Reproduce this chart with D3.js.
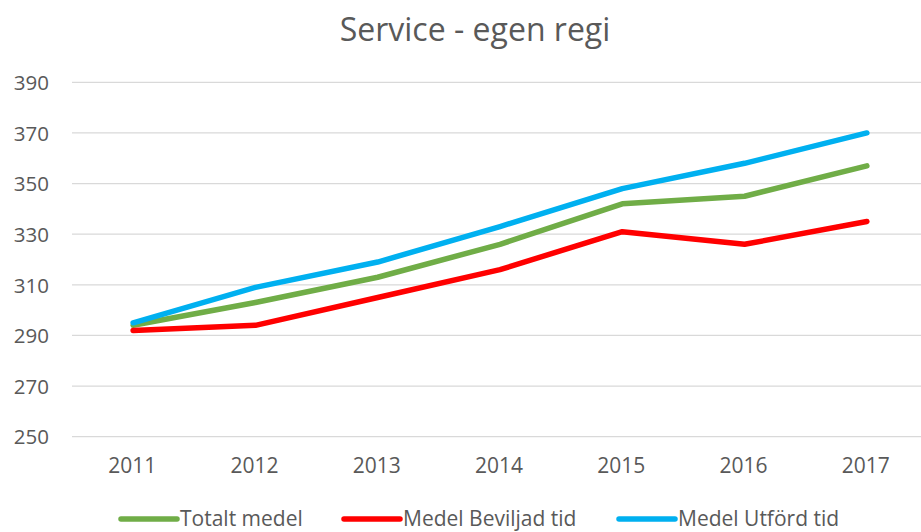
<!DOCTYPE html>
<html>
<head>
<meta charset="utf-8">
<script src="https://cdn.jsdelivr.net/npm/d3@7/dist/d3.min.js"></script>
<style>
  html, body { margin: 0; padding: 0; background: #fff; }
  text { font-family: "Open Sans", "Noto Sans", sans-serif; fill: #595959; }
</style>
</head>
<body>
<svg id="chart" width="921" height="532"></svg>
<script>
const years = ["2011", "2012", "2013", "2014", "2015", "2016", "2017"];
const totaltMedel = [294, 303, 313, 326, 342, 345, 357];
const medelBeviljad = [292, 294, 305, 316, 331, 326, 335];
const medelUtford = [295, 309, 319, 333, 348, 358, 370];
const yTicks = [250, 270, 290, 310, 330, 350, 370, 390];
const seriesNames = ["Totalt medel", "Medel Beviljad tid", "Medel Utförd tid"];
const chartTitle = "Service - egen regi";

const series = [
  { name: seriesNames[0], values: totaltMedel, color: "#70AD47" },
  { name: seriesNames[1], values: medelBeviljad, color: "#FF0000" },
  { name: seriesNames[2], values: medelUtford, color: "#00B0F0" }
];

const svg = d3.select("#chart");
const plotLeft = 72, plotRight = 928, plotTop = 82.3, plotBottom = 436.7;

const x = d3.scaleBand().domain(years).range([plotLeft, plotRight]);
const y = d3.scaleLinear().domain([250, 390]).range([plotBottom, plotTop]);

// gridlines
svg.append("g").selectAll("line").data(yTicks).join("line")
  .attr("x1", plotLeft).attr("x2", 921)
  .attr("y1", d => y(d)).attr("y2", d => y(d))
  .attr("stroke", "#D9D9D9").attr("stroke-width", 1.3);

// y labels
const yAxis = d3.axisLeft(y).tickValues(yTicks).tickSize(0).tickPadding(0);
const gy = svg.append("g").attr("transform", `translate(49,0)`).call(yAxis);
gy.select(".domain").remove();
gy.selectAll("text").attr("font-size", 20.5).style("font-family", '"Open Sans", sans-serif').attr("fill", "#595959").attr("dy", "0.35em");

// x labels
const xAxis = d3.axisBottom(x).tickSize(0).tickPadding(0);
const gx = svg.append("g").attr("transform", `translate(-1,458)`).call(xAxis);
gx.select(".domain").remove();
gx.selectAll("text").attr("font-size", 21).style("font-family", '"Open Sans", sans-serif').attr("fill", "#595959").attr("dy", "0.71em");

// lines
const line = d3.line().x((d, i) => x(years[i]) + x.bandwidth() / 2).y(d => y(d));
svg.append("g").selectAll("path").data(series).join("path")
  .attr("d", d => line(d.values))
  .attr("fill", "none")
  .attr("stroke", d => d.color)
  .attr("stroke-width", 5.5)
  .attr("stroke-linecap", "round")
  .attr("stroke-linejoin", "round");

// title
svg.append("text").attr("x", 475).attr("y", 41).attr("text-anchor", "middle")
  .attr("font-size", 32).text(chartTitle);

// legend
const legendX = [121, 344, 619];
const lg = svg.append("g").selectAll("g").data(series).join("g")
  .attr("transform", (d, i) => `translate(${legendX[i]},519)`);
lg.append("line").attr("x1", 0).attr("x2", 56).attr("y1", 0).attr("y2", 0)
  .attr("stroke", d => d.color).attr("stroke-width", 5.5).attr("stroke-linecap", "round");
lg.append("text").attr("x", 59).attr("y", 0).attr("dy", "0.35em")
  .attr("font-size", 21).text(d => d.name);
</script>
</body>
</html>
